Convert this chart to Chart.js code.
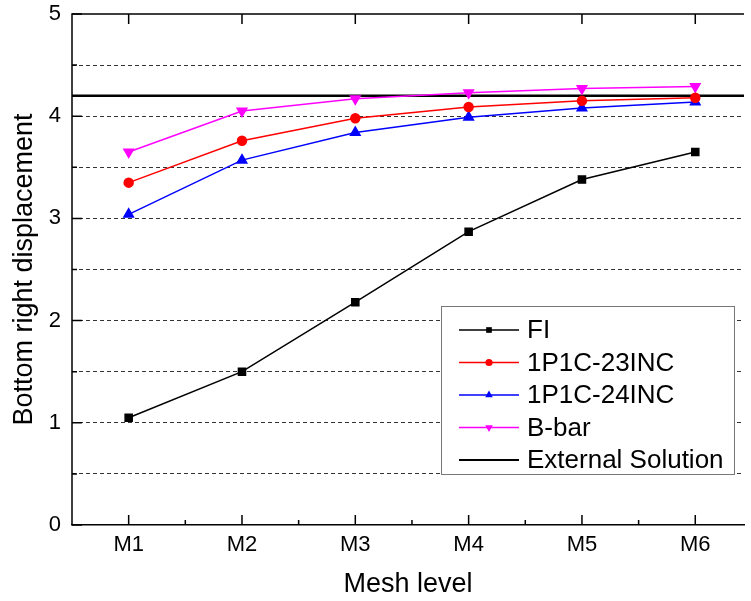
<!DOCTYPE html>
<html>
<head>
<meta charset="utf-8">
<script src="https://cdn.jsdelivr.net/npm/chart.js@4.4.1/dist/chart.umd.min.js"></script>
<style>
    body { margin: 0; background: #fff; overflow: hidden; }
    #wrap { width: 751px; height: 601px; }
</style>
</head>
<body>
<div id="wrap"><canvas id="myChart"></canvas></div>
<script>
    var meshLevels = ['M1', 'M2', 'M3', 'M4', 'M5', 'M6'];
    var fiValues = [1.05, 1.50, 2.18, 2.87, 3.38, 3.65];
    var inc23Values = [3.35, 3.76, 3.98, 4.09, 4.15, 4.18];
    var inc24Values = [3.04, 3.57, 3.84, 3.99, 4.08, 4.14];
    var bbarValues = [3.65, 4.05, 4.17, 4.23, 4.27, 4.29];
    var externalSolution = 4.2;
    var yTicks = [0, 1, 2, 3, 4, 5];

    var FONT = '"Liberation Sans", Arial, sans-serif';

    function toPoints(values) {
        return values.map(function (v, i) {
            return { x: i + 1, y: v };
        });
    }

    // рамка, засечки внутрь, линия внешнего решения
    var framePlugin = {
        id: 'frame',
        beforeDatasetsDraw: function (chart) {
            var ctx = chart.ctx;
            var area = chart.chartArea;
            var xs = chart.scales.x;
            var ys = chart.scales.y;
            ctx.save();
            ctx.strokeStyle = '#000';
            ctx.lineWidth = 1.5;
            ctx.setLineDash([]);
            // left + top border
            ctx.beginPath();
            ctx.moveTo(area.left, area.bottom);
            ctx.lineTo(area.left, area.top);
            ctx.lineTo(area.right, area.top);
            ctx.stroke();
            // x ticks
            ctx.beginPath();
            meshLevels.forEach(function (m, i) {
                var px = xs.getPixelForValue(i + 1);
                ctx.moveTo(px, area.bottom);
                ctx.lineTo(px, area.bottom - 10);
                ctx.moveTo(px, area.top);
                ctx.lineTo(px, area.top + 10);
                if (i < meshLevels.length - 1) {
                    var mid = xs.getPixelForValue(i + 1.5);
                    ctx.moveTo(mid, area.bottom);
                    ctx.lineTo(mid, area.bottom - 5);
                }
            });
            // y ticks
            yTicks.forEach(function (t, i) {
                var py = ys.getPixelForValue(t);
                ctx.moveTo(area.left, py);
                ctx.lineTo(area.left + 10, py);
                if (i < yTicks.length - 1) {
                    var mid = ys.getPixelForValue(t + 0.5);
                    ctx.moveTo(area.left, mid);
                    ctx.lineTo(area.left + 5, mid);
                }
            });
            ctx.stroke();
            // external solution
            var ey = ys.getPixelForValue(externalSolution);
            ctx.lineWidth = 2.5;
            ctx.beginPath();
            ctx.moveTo(area.left, ey);
            ctx.lineTo(area.right, ey);
            ctx.stroke();
            ctx.restore();
        }
    };

    var legendPlugin = {
        id: 'boxLegend',
        afterDraw: function (chart) {
            var ctx = chart.ctx;
            var left = 441, top = 306, right = 734, bottom = 474;
            var rowY = 330, rowStep = 32.5;
            ctx.save();
            ctx.fillStyle = '#fff';
            ctx.fillRect(left, top, right - left, bottom - top);
            ctx.strokeStyle = '#777';
            ctx.lineWidth = 1;
            ctx.strokeRect(left + 0.5, top + 0.5, right - left, bottom - top);

            var items = chart.data.datasets.map(function (ds) {
                return ds;
            });
            items.push({ label: 'External Solution', borderColor: '#000', borderWidth: 2, pointStyle: false });

            ctx.font = '26px ' + FONT;
            ctx.textBaseline = 'middle';
            items.forEach(function (it, i) {
                var y = rowY + i * rowStep;
                ctx.strokeStyle = it.borderColor;
                ctx.lineWidth = it.borderWidth;
                ctx.beginPath();
                ctx.moveTo(459, y);
                ctx.lineTo(519, y);
                ctx.stroke();
                if (it.pointStyle) {
                    ctx.fillStyle = it.borderColor;
                    Chart.helpers.drawPoint(ctx, {
                        pointStyle: it.pointStyle,
                        rotation: it.pointRotation || 0,
                        radius: it.pointRadius * 0.8,
                        borderWidth: 0
                    }, 489, y);
                }
                ctx.fillStyle = '#000';
                ctx.fillText(it.label, 527, y + 1);
            });
            ctx.restore();
        }
    };

    const ctx = document.getElementById('myChart').getContext('2d');
    const myChart = new Chart(ctx, {
        type: 'line',
        data: {
            datasets: [
                {
                    label: 'FI',
                    data: toPoints(fiValues),
                    borderColor: '#000000',
                    backgroundColor: '#000000',
                    borderWidth: 1.5,
                    pointStyle: 'rect',
                    pointRadius: 5,
                },
                {
                    label: '1P1C-23INC',
                    data: toPoints(inc23Values),
                    borderColor: '#ff0000',
                    backgroundColor: '#ff0000',
                    borderWidth: 1.5,
                    pointStyle: 'circle',
                    pointRadius: 4.5,
                },
                {
                    label: '1P1C-24INC',
                    data: toPoints(inc24Values),
                    borderColor: '#0000ff',
                    backgroundColor: '#0000ff',
                    borderWidth: 1.5,
                    pointStyle: 'triangle',
                    pointRadius: 5.5,
                },
                {
                    label: 'B-bar',
                    data: toPoints(bbarValues),
                    borderColor: '#ff00ff',
                    backgroundColor: '#ff00ff',
                    borderWidth: 1.5,
                    pointStyle: 'triangle',
                    pointRotation: 180,
                    pointRadius: 5.5,
                },
            ]
        },
        plugins: [framePlugin, legendPlugin],
        options: {
            responsive: true,
            maintainAspectRatio: false,
            animation: false,
            layout: {
                padding: { top: 14, right: 0, left: 0, bottom: 0 }
            },
            elements: {
                line: { tension: 0 },
                point: { borderWidth: 0, hoverRadius: 5 }
            },
            plugins: {
                legend: { display: false },
                tooltip: { enabled: false }
            },
            scales: {
                x: {
                    type: 'linear',
                    min: 0.5,
                    max: 6.43,
                    afterBuildTicks: function (scale) {
                        scale.ticks = meshLevels.map(function (m, i) {
                            return { value: i + 1 };
                        });
                    },
                    afterFit: function (scale) {
                        scale.height = 76;
                        scale.paddingLeft = 0;
                        scale.paddingRight = 0;
                    },
                    border: { display: true, color: '#000', width: 1.5 },
                    grid: { display: false, drawTicks: false },
                    title: {
                        display: true,
                        text: 'Mesh level',
                        color: '#000',
                        font: { family: FONT, size: 27 },
                        padding: { top: 0, bottom: 0 },
                    },
                    ticks: {
                        color: '#000',
                        font: { family: FONT, size: 22 },
                        padding: 7,
                        maxRotation: 0,
                        autoSkip: false,
                        callback: function (value) {
                            return meshLevels[Math.round(value) - 1];
                        }
                    }
                },
                y: {
                    min: 0,
                    max: 5,
                    afterFit: function (scale) {
                        scale.width = 72;
                        scale.paddingTop = 0;
                        scale.paddingBottom = 0;
                    },
                    border: { display: false, dash: [4, 3] },
                    grid: {
                        drawTicks: false,
                        lineWidth: 1,
                        color: function (context) {
                            if (context.tick.value == 0 || context.tick.value == 5) {
                                return 'rgba(0,0,0,0)';
                            }
                            return '#333333';
                        },
                    },
                    title: {
                        display: true,
                        text: 'Bottom right displacement',
                        color: '#000',
                        font: { family: FONT, size: 27 },
                        padding: { top: 8, bottom: 0 },
                    },
                    ticks: {
                        stepSize: 0.5,
                        color: '#000',
                        font: { family: FONT, size: 22 },
                        padding: 11,
                        callback: function (value) {
                            return Number.isInteger(value) ? value : '';
                        }
                    }
                }
            }
        }
    });
</script>
</body>
</html>
